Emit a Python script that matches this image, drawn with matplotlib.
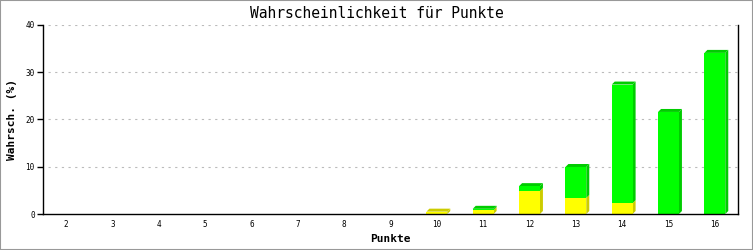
import matplotlib
matplotlib.use("Agg")
import matplotlib.pyplot as plt
from matplotlib.patches import Polygon, Rectangle

# Punkte 2..16, Wahrscheinlichkeit in %
POINTS = list(range(2, 17))
YELLOW = [0, 0, 0, 0, 0, 0, 0, 0, 0.5, 0.85, 4.9, 3.4, 2.3, 0, 0]
GREEN = [0, 0, 0, 0, 0, 0, 0, 0, 0, 0.25, 1.0, 6.55, 25.1, 21.6, 34.1]
Y_TICKS = [0, 10, 20, 30, 40]

FRONT = {"y": "#ffff00", "g": "#00ff00"}
SHADE = {"y": "#cccc00", "g": "#00cc00"}
BAR_W = 0.45
DX, DY = 0.065, 0.63   # 3d depth, ~3 px


def bar3d(ax, x, y0, y1, key, top):
    x0, x1 = x - BAR_W / 2, x + BAR_W / 2
    ax.add_patch(Polygon([(x1, y0), (x1 + DX, y0 + DY), (x1 + DX, y1 + DY), (x1, y1)],
                         closed=True, facecolor=SHADE[key], edgecolor="none", zorder=3))
    if top:
        ax.add_patch(Polygon([(x0, y1), (x0 + DX, y1 + DY), (x1 + DX, y1 + DY), (x1, y1)],
                             closed=True, facecolor=SHADE[key], edgecolor="none", zorder=3))
    ax.add_patch(Rectangle((x0, y0), BAR_W, y1 - y0, facecolor=FRONT[key],
                           edgecolor="none", zorder=4))


fig = plt.figure(figsize=(7.53, 2.5), dpi=100)
ax = fig.add_axes([43 / 753, 1 - 214 / 250, 695 / 753, 189 / 250])

for p, yv, gv in zip(POINTS, YELLOW, GREEN):
    if yv > 0:
        bar3d(ax, p, 0, yv, "y", top=(gv == 0))
    if gv > 0:
        bar3d(ax, p, yv, yv + gv, "g", top=True)

ax.set_xlim(POINTS[0] - 0.5, POINTS[-1] + 0.5)
ax.set_ylim(0, 40)
ax.set_yticks(Y_TICKS)
ax.set_xticks(POINTS)
ax.set_xticklabels([str(p) for p in POINTS], fontsize=5.5, family="DejaVu Sans Mono")
ax.set_yticklabels([str(t) for t in Y_TICKS], fontsize=5.5, family="DejaVu Sans Mono")
ax.tick_params(axis="x", length=0, pad=4)
ax.tick_params(axis="y", length=4, width=1, pad=2)

for t in Y_TICKS[1:]:
    ax.axhline(t, xmin=0.007, color="#bbbbbb", linestyle=(0, (2, 4)), linewidth=0.8, zorder=1)

for side in ["left", "bottom", "right"]:
    ax.spines[side].set_linewidth(1.0)
    ax.spines[side].set_zorder(5)
ax.spines["top"].set_visible(False)

ax.set_xlabel("Punkte", fontsize=8, family="DejaVu Sans Mono", weight="bold", labelpad=4)
ax.set_ylabel("Wahrsch. (%)", fontsize=8, family="DejaVu Sans Mono", weight="bold", labelpad=6)
fig.text(0.5, 1 - 14 / 250, "Wahrscheinlichkeit für Punkte", ha="center", va="center",
         fontsize=10.5, family="DejaVu Sans Mono")

fig.patches.append(Rectangle((0, 0), 1, 1, transform=fig.transFigure, fill=False,
                             edgecolor="#999999", linewidth=1.5))

fig.savefig("out.png", dpi=100)
